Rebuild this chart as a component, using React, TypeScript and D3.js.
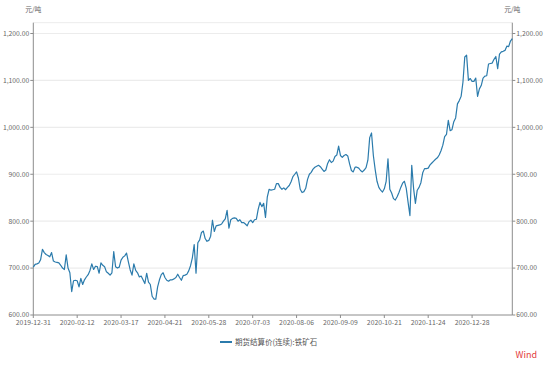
import React from "react";
import * as d3 from "d3";

const tickLabels = [
  "2019-12-31", "2020-02-12", "2020-03-17", "2020-04-21", "2020-05-28", "2020-07-03",
  "2020-08-06", "2020-09-09", "2020-10-21", "2020-11-24", "2020-12-28",
];
const tickStep = 24;
const yTicks = [600, 700, 800, 900, 1000, 1100, 1200];
const seriesName = "期货结算价(连续):铁矿石";
const unit = "元/吨";

const values = [
  702, 708, 709, 711, 718, 740, 733, 729, 727, 724, 733, 715, 713, 712, 711, 706, 700, 697, 728, 700,
  690, 650, 673, 674, 673, 660, 678, 665, 675, 681, 686, 695, 709, 697, 704, 703, 689, 711, 706, 703,
  692, 689, 685, 690, 735, 703, 700, 702, 717, 723, 726, 732, 713, 696, 685, 709, 695, 690, 681, 683,
  675, 667, 689, 670, 665, 640, 634, 634, 660, 675, 686, 690, 680, 674, 672, 675, 675, 677, 680, 687,
  680, 674, 684, 685, 687, 694, 705, 722, 750, 689, 754, 760, 776, 779, 763, 757, 759, 768, 802, 778,
  790, 791, 792, 794, 800, 805, 823, 785, 803, 806, 807, 806, 800, 803, 797, 797, 794, 790, 799, 802,
  797, 803, 804, 825, 840, 831, 838, 808, 852, 868, 866, 867, 868, 880, 880, 872, 868, 871, 867, 872,
  876, 884, 895, 900, 905, 892, 868, 861, 863, 870, 889, 900, 904, 911, 915, 917, 919, 916, 911, 906,
  909, 923, 931, 925, 928, 938, 941, 960, 940, 936, 940, 942, 939, 922, 908, 905, 915, 915, 913, 908,
  905, 909, 914, 930, 978, 988, 940, 910, 885, 872, 866, 862, 869, 885, 933, 868, 860, 848, 845, 852,
  861, 872, 881, 885, 870, 840, 812, 919, 870, 838, 866, 872, 882, 903, 912, 912, 913, 920, 924, 928,
  932, 935, 941, 950, 962, 980, 985, 1015, 993, 995, 1012, 1020, 1050, 1057, 1066, 1096, 1150, 1154, 1100, 1104,
  1098, 1098, 1105, 1066, 1082, 1089, 1105, 1109, 1110, 1135, 1136, 1137, 1145, 1151, 1125, 1156, 1161, 1162, 1164, 1173,
  1172, 1184, 1189,
];

const W = 550;
const H = 365;
const left = 33.3;
const right = 512.3;
const top = 22.7;
const bottom = 315;
const font = "'Noto Sans CJK SC', 'Noto Sans', sans-serif";

export default function App() {
  const x = d3.scaleLinear().domain([0, values.length - 1]).range([left, right]);
  const y = d3.scaleLinear().domain([600, 1200]).range([bottom, 33.5]);
  const line = d3
    .line<number>()
    .x((_, i) => x(i))
    .y((d) => y(d));
  const fmt = d3.format(",.2f");
  const axisColor = "#8c8c8c";
  const textColor = "#666";

  return (
    <svg
      width={W}
      height={H}
      style={{ position: "absolute", left: 0, top: 0, background: "#fff" }}
      fontFamily={font}
    >
      {/* top border */}
      <line x1={left} x2={right} y1={top} y2={top} stroke="#ececec" strokeWidth={1} />
      {/* gridlines */}
      {yTicks.slice(1).map((t) => (
        <line key={t} x1={left} x2={right} y1={y(t)} y2={y(t)} stroke="#ececec" strokeWidth={1.2} />
      ))}
      {/* axes */}
      <line x1={left} x2={left} y1={top} y2={bottom} stroke={axisColor} strokeWidth={1} />
      <line x1={right} x2={right} y1={top} y2={bottom} stroke={axisColor} strokeWidth={1} />
      <line x1={left} x2={right} y1={bottom} y2={bottom} stroke={axisColor} strokeWidth={1} />
      {yTicks.map((t) => (
        <g key={t}>
          <line x1={left - 3} x2={left} y1={y(t)} y2={y(t)} stroke={axisColor} />
          <line x1={right} x2={right + 3} y1={y(t)} y2={y(t)} stroke={axisColor} />
          <text x={left - 4} y={y(t)} dy="0.35em" textAnchor="end" fontSize={6.8} fill={textColor}>
            {fmt(t)}
          </text>
          <text x={right + 4} y={y(t)} dy="0.35em" textAnchor="start" fontSize={6.8} fill={textColor}>
            {fmt(t)}
          </text>
        </g>
      ))}
      {tickLabels.map((lab, k) => (
        <g key={lab}>
          <line x1={x(k * tickStep)} x2={x(k * tickStep)} y1={bottom} y2={bottom + 3} stroke={axisColor} />
          <text x={x(k * tickStep)} y={bottom + 10} textAnchor="middle" fontSize={6.8} fill={textColor}>
            {lab}
          </text>
        </g>
      ))}
      <text x={left} y={12} textAnchor="middle" fontSize={6.8} fill={textColor}>
        {unit}
      </text>
      <text x={right} y={12} textAnchor="middle" fontSize={6.8} fill={textColor}>
        {unit}
      </text>
      {/* series */}
      <path d={line(values) || ""} fill="none" stroke="#2b7bac" strokeWidth={1.2} strokeLinejoin="round" />
      {/* legend */}
      <line x1={220} x2={232} y1={342} y2={342} stroke="#2b7bac" strokeWidth={2} />
      <text x={235} y={342} dy="0.35em" fontSize={7.5} fill="#555">
        {seriesName}
      </text>
      <text x={537} y={358} textAnchor="end" fontSize={9} fill="#e33b3b">
        Wind
      </text>
    </svg>
  );
}
